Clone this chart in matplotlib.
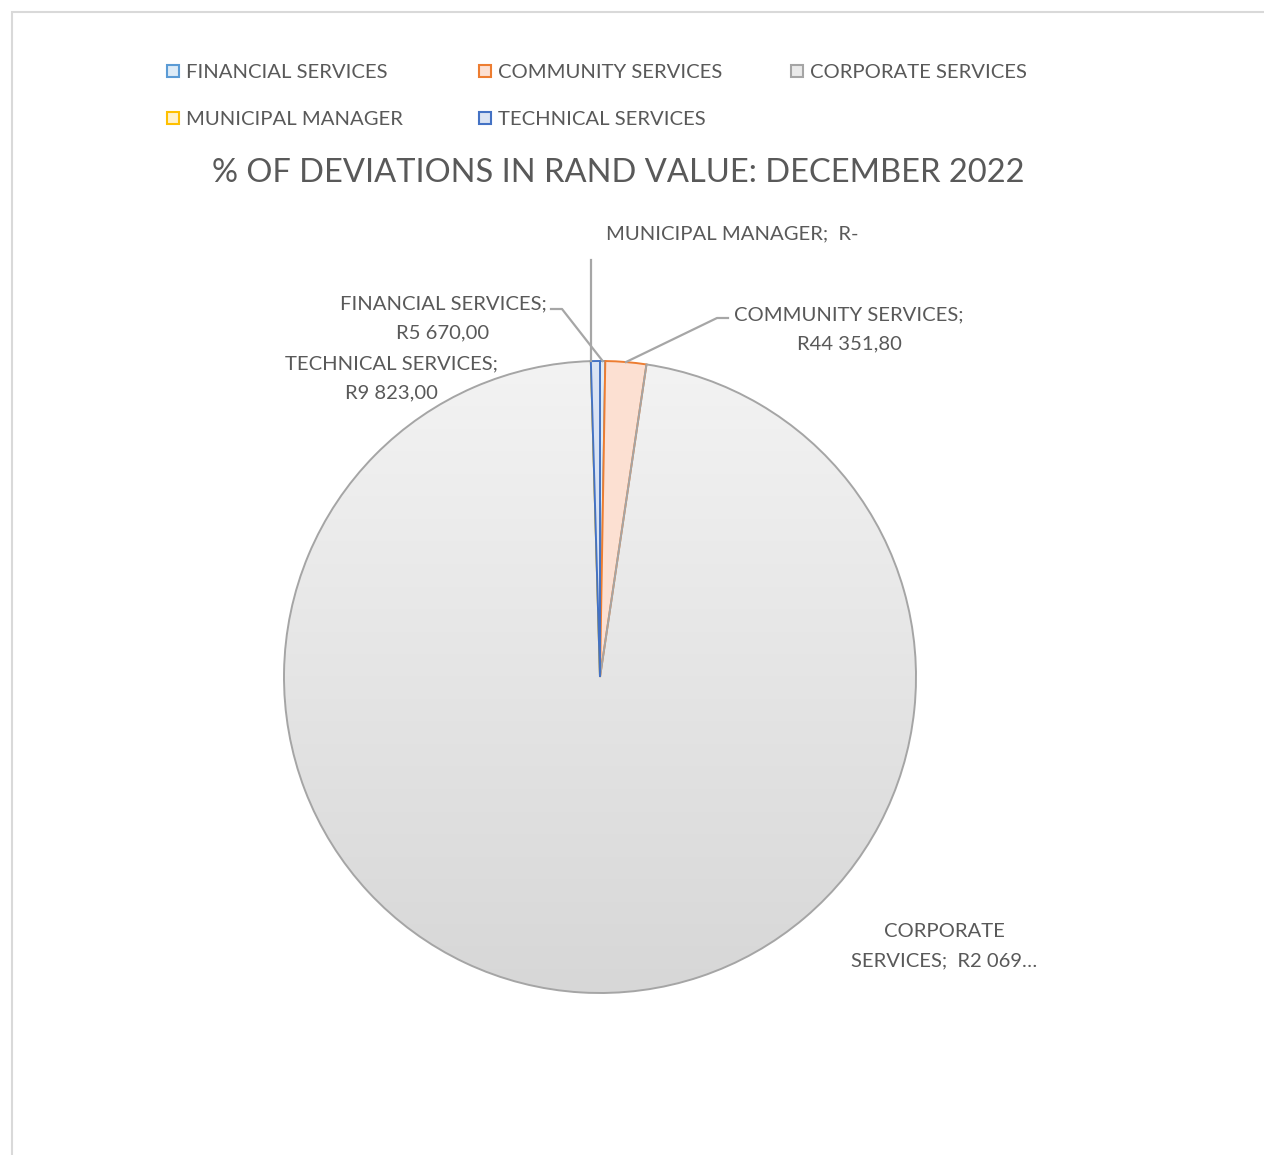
import numpy as np
import matplotlib
matplotlib.use("Agg")
import matplotlib.pyplot as plt
from matplotlib.lines import Line2D
from matplotlib.patches import Rectangle

# --- data ---
departments = ["FINANCIAL SERVICES", "COMMUNITY SERVICES", "CORPORATE SERVICES",
               "MUNICIPAL MANAGER", "TECHNICAL SERVICES"]
rand_values = [5670.00, 44351.80, 2069450.00, 0.00, 9823.00]
edge_colors = ["#5B9BD5", "#ED7D31", "#A5A5A5", "#FFC000", "#4472C4"]
fill_colors = ["#DDEBF7", "#FCE0D2", "#EAEAEA", "#FFF2CC", "#DAE3F3"]
title = "% OF DEVIATIONS IN RAND VALUE: DECEMBER 2022"

W, H = 1264, 1155
TXT = "#595959"
FONT = "Lato"
FS = 14.6


def fmt_rand(v):
    if v == 0:
        return "R-"
    s = f"{v:,.2f}"
    return "R" + s.replace(",", " ").replace(".", ",")


def fp(x, y):
    # pixel position -> figure fraction
    return x / W, 1 - y / H


fig = plt.figure(figsize=(W / 100, H / 100), dpi=100)

# outer chart frame (only top and left edges visible in the crop)
fig.add_artist(Rectangle(fp(12, 1200), 1400 / W, 1188 / H, transform=fig.transFigure,
                         fill=False, edgecolor="#D9D9D9", linewidth=1.5))

# pie axes: centre (600, 677), radius 316 px
cx, cy, r = 600, 677, 316
ax = fig.add_axes([(cx - r) / W, (H - cy - r) / H, 2 * r / W, 2 * r / H])
wedges, _ = ax.pie(rand_values, startangle=90, counterclock=False, radius=1,
                   colors=fill_colors,
                   wedgeprops=dict(linewidth=1.4, edgecolor="none"))
for w, ec in zip(wedges, edge_colors):
    w.set_edgecolor(ec)

# vertical grey gradient on the big corporate slice (light at top)
grad = np.linspace(0, 1, 256).reshape(-1, 1)
cmap = matplotlib.colors.LinearSegmentedColormap.from_list("g", ["#F3F3F3", "#D7D7D7"])
im = ax.imshow(grad, extent=(-1, 1, -1, 1), origin="upper", cmap=cmap,
               aspect="auto", zorder=0.5)
im.set_clip_path(wedges[2])
wedges[2].set_facecolor("none")
wedges[2].set_zorder(1)
ax.set_xlim(-1, 1)
ax.set_ylim(-1, 1)
ax.axis("off")

# title
fig.text(*fp(618, 173), title, ha="center", va="center", fontsize=23.5,
         color=TXT, family=FONT)

# legend drawn as Excel does: three fixed-width columns, row-wise order
leg_pos = [(167, 71), (479, 71), (791, 71), (167, 118), (479, 118)]
for (lx, ly), name, ec, fc in zip(leg_pos, departments, edge_colors, fill_colors):
    fig.add_artist(Rectangle(fp(lx, ly + 6), 12 / W, 12 / H, transform=fig.transFigure,
                             facecolor=fc, edgecolor=ec, linewidth=1.5))
    fig.text(*fp(lx + 19, ly + 1.5), name, ha="left", va="center", fontsize=FS,
             color=TXT, family=FONT)


def edge_point(w):
    # pixel coordinates of the mid-arc point of a wedge
    mid = np.deg2rad((w.theta1 + w.theta2) / 2)
    return cx + r * np.cos(mid), cy - r * np.sin(mid)


def leader(points):
    xs, ys = zip(*[fp(x, y) for x, y in points])
    fig.add_artist(Line2D(xs, ys, transform=fig.transFigure, color="#A6A6A6",
                          linewidth=1.6))


def label(x, y, lines, ha="center"):
    for i, t in enumerate(lines):
        fig.text(*fp(x, y + 1.5 + i * 29.5), t, ha=ha, va="center", fontsize=FS,
                 color=TXT, family=FONT)


names_v = [f"{d};" for d in departments]

# financial
fx, fy = edge_point(wedges[0])
leader([(551, 309), (562, 309), (fx, fy)])
label(443, 302, [names_v[0], fmt_rand(rand_values[0])])

# community
kx, ky = edge_point(wedges[1])
leader([(728, 318), (717, 318), (kx, ky)])
label(849, 313, [names_v[1], fmt_rand(rand_values[1])])

# municipal manager (zero slice)
mx, my = edge_point(wedges[3])
leader([(mx, 260), (mx, my)])
label(606, 232, [f"{names_v[3]}  {fmt_rand(rand_values[3])}"], ha="left")

# technical
label(391, 362, [names_v[4], fmt_rand(rand_values[4])])

# corporate (value truncated in the original)
corp_txt = fmt_rand(rand_values[2])[:6] + "…"
label(944, 930, ["CORPORATE", f"SERVICES;  {corp_txt}"])

fig.savefig("out.png", dpi=100, facecolor="white")
